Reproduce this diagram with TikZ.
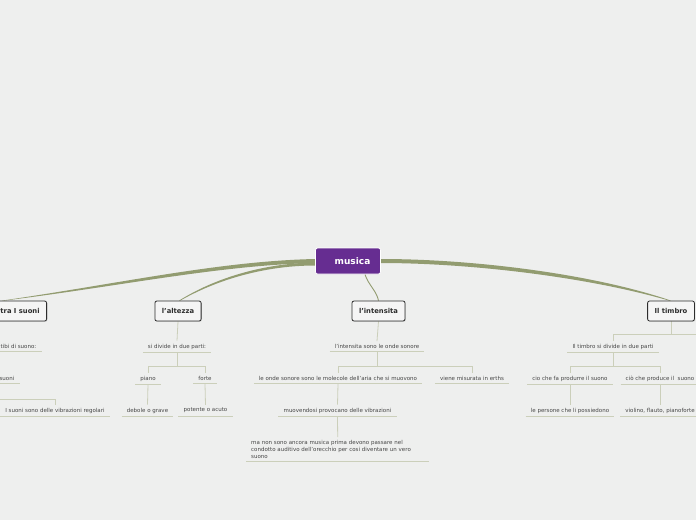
\documentclass[tikz,border=0pt]{standalone}
\usepackage{fontspec}
\setmainfont{DejaVu Sans}
\usepackage{tikz}
\usepackage{xcolor}
\usetikzlibrary{positioning,calc,shadows,backgrounds}

\definecolor{bgc}{RGB}{238,239,238}
\definecolor{trunkc}{RGB}{146,156,112}
\definecolor{linec}{RGB}{203,207,186}
\definecolor{purp}{RGB}{102,45,145}
\definecolor{leafc}{RGB}{70,70,70}
\definecolor{boxc}{RGB}{45,45,45}
\newcommand\leaffont{\fontsize{5.5}{7}\selectfont}

\begin{document}
\begin{tikzpicture}[x=1pt,y=-1pt,
    root/.style={fill=purp, draw=white, line width=0.8pt, rounded corners=2pt, text=white,
        font=\fontsize{9}{10}\selectfont\bfseries, minimum width=65pt, minimum height=26pt, inner sep=0pt},
    topic/.style={fill=white!96!black, draw=boxc, line width=0.8pt, rounded corners=2pt, text=boxc,
        font=\fontsize{6.8}{8}\selectfont\bfseries, minimum height=20pt, inner xsep=7pt,
        drop shadow={shadow xshift=0.8pt, shadow yshift=-0.8pt, opacity=0.25}},
    leaf/.style={font=\leaffont, text=leafc, inner xsep=5pt, inner ysep=3pt,
        append after command={(\tikzlastnode.south west) edge[uline] (\tikzlastnode.south east)}},
    uline/.style={draw=linec, line width=0.8pt},
    conn/.style={draw=linec, line width=0.8pt},
    trunk/.style={fill=trunkc, draw=none}]
    \useasboundingbox (0,0) rectangle (696,520);
    \begin{scope}[on background layer]
        \fill[bgc] (0,0) rectangle (696,520);
    \end{scope}

    % Central node and main topics
    \node[root] (musica) at (348,261) {\quad musica};
    \node[topic, anchor=east] (suoni) at (47,311) {tra I suoni};
    \node[topic] (altezza) at (178,311) {l'altezza};
    \node[topic] (intensita) at (378.5,311) {l'intensita};
    \node[topic] (timbro) at (671,311) {Il timbro};

    % tra I suoni
    \node[leaf, anchor=east] (tibi) at (41.5,346.5) {tibi di suono:};
    \node[leaf, anchor=east] (suonib) at (19.5,378.5) {suoni};
    \node[leaf] (regolari) at (55,410.5) {I suoni sono delle vibrazioni regolari};
    \coordinate (offl) at (-5,399);

    % l'altezza
    \node[leaf] (divide) at (177,346.5) {si divide in due parti:};
    \node[leaf] (piano) at (148,378.5) {piano};
    \node[leaf] (forte) at (205,378.5) {forte};
    \node[leaf] (debole) at (147.5,410.5) {debole o grave};
    \node[leaf] (potente) at (205.5,410.5) {potente o acuto};

    % l'intensita
    \node[leaf] (onde) at (377,346.5) {l'intensita sono le onde sonore};
    \node[leaf] (molecole) at (338,378.5) {le onde sonore sono le molecole dell'aria che si muovono};
    \node[leaf] (erths) at (472,378.5) {viene misurata in erths};
    \node[leaf] (vibrazioni) at (337.5,410.5) {muovendosi provocano delle vibrazioni};
    \node[leaf, anchor=north west, align=left, text width=173pt] (condotto) at (246,437)
        {ma non sono ancora musica prima devono passare nel\\condotto auditivo dell'orecchio per cosi diventare un vero\\suono};

    % Il timbro
    \node[leaf] (tdivide) at (613,346.5) {Il timbro si divide in due parti};
    \node[leaf] (produrre) at (570,378.5) {cio che fa produrre il suono};
    \node[leaf] (produce) at (660,378.5) {ciò che produce il\ \ suono};
    \node[leaf] (persone) at (570,410.5) {le persone che li possiedono};
    \node[leaf] (violino) at (660,410.5) {violino, flauto, pianoforte};
    \coordinate (offr) at (705,334);

    \begin{scope}[on background layer]
        % Main branches
        \fill[trunk] ($(musica.west)+(0,-2)$) .. controls (220,261) and (120,283.5) .. ($(suoni.north east)+(-45,0)$)
            -- ($(suoni.north east)+(-43,0)$) .. controls (122,286) and (220,265) .. ($(musica.west)+(0,2)$) -- cycle;
        \fill[trunk] ($(musica.west)+(0,1.5)$) .. controls (270,263) and (220,275) .. ($(altezza.north)+(1,0)$)
            -- ($(altezza.north)+(2.2,0)$) .. controls (222,277) and (270,265.5) .. ($(musica.west)+(0,4.5)$) -- cycle;
        \draw[trunkc, line width=0.9pt] ($(musica.south)+(17,0)$) .. controls +(3,10) and +(-2,-10) .. (intensita.north);
        \fill[trunk] ($(musica.east)+(0,-2)$) .. controls (470,259) and (590,273) .. ($(timbro.north)+(0,0)$)
            -- ($(timbro.north)+(-2,0)$) .. controls (588,277) and (470,263) .. ($(musica.east)+(0,2)$) -- cycle;

        % Sub branches
        \draw[conn] (offl) -| (regolari.north);

        \draw[conn] (altezza.south) -- (divide.north);
        \draw[conn] (divide.south) -- ++(0,14.5) coordinate (dj);
        \draw[conn] (piano.north) |- (dj) -| (forte.north);
        \draw[conn] (piano.south) -- (debole.north);
        \draw[conn] (forte.south) -- (potente.north);

        \draw[conn] (intensita.south) -- (onde.north);
        \draw[conn] (onde.south) -- ++(0,14.5) coordinate (oj);
        \draw[conn] (molecole.north) |- (oj) -| (erths.north);
        \draw[conn] (molecole.south) -- (vibrazioni.north);
        \draw[conn] (vibrazioni.south) -- (condotto.north);

        \draw[conn] (timbro.south) -- ++(0,13) coordinate (tj);
        \draw[conn] (tdivide.north) |- (offr);
        \draw[conn] (tdivide.south) -- ++(0,14.5) coordinate (pj);
        \draw[conn] (produrre.north) |- (pj) -| (produce.north);
        \draw[conn] (produrre.south) -- (persone.north);
        \draw[conn] (produce.south) -- (violino.north);
    \end{scope}
\end{tikzpicture}
\end{document}
